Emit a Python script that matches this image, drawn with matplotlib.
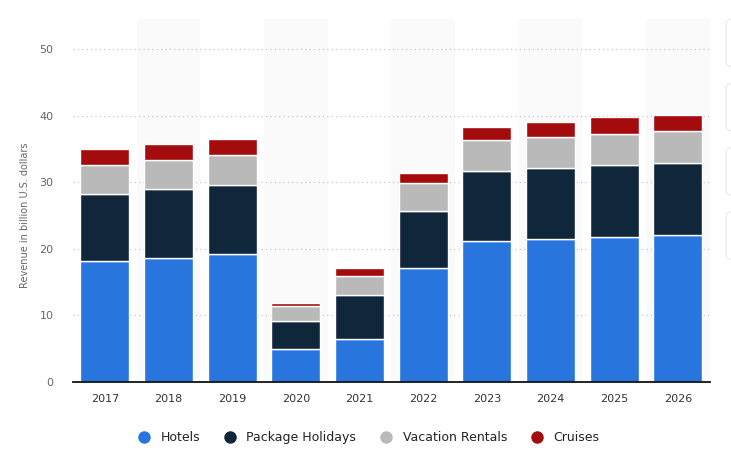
import matplotlib.pyplot as plt
import matplotlib.patches as mpatches
from matplotlib.lines import Line2D
import numpy as np

years = ["2017", "2018", "2019", "2020", "2021", "2022", "2023", "2024", "2025", "2026"]
hotels = [18.1, 18.6, 19.2, 4.9, 6.4, 17.05, 21.1, 21.5, 21.8, 22.1]
package = [10.1, 10.4, 10.4, 4.3, 6.6, 8.65, 10.6, 10.7, 10.8, 10.8]
rentals = [4.4, 4.3, 4.5, 2.2, 2.9, 4.2, 4.7, 4.6, 4.7, 4.8]
cruises = [2.4, 2.4, 2.4, 0.5, 1.2, 1.5, 1.9, 2.2, 2.5, 2.4]

series = [("Hotels", hotels, "#2876dd"),
          ("Package Holidays", package, "#10263b"),
          ("Vacation Rentals", rentals, "#b9b9b9"),
          ("Cruises", cruises, "#a30b0c")]

fig = plt.figure(figsize=(7.31, 4.76), dpi=100)
ax = fig.add_axes([0.0999, 0.1975, 0.8711, 0.7625])

x = np.arange(len(years))

# alternating column shading
for i in x:
    if i % 2 == 1:
        ax.axvspan(i - 0.5, i + 0.5, color="#fafafa", zorder=0, lw=0)

bottom = np.zeros(len(years))
for name, vals, col in series:
    vals = np.array(vals)
    ax.bar(x, vals, bottom=bottom, width=0.77, color=col,
           edgecolor="white", linewidth=1, zorder=3, label=name)
    bottom += vals

ax.set_xlim(-0.5, 9.5)
ax.set_ylim(0, 54.5)
ax.set_yticks([0, 10, 20, 30, 40, 50])
ax.set_xticks(x)
ax.set_xticklabels(years)
ax.yaxis.grid(True, linestyle=(0, (1, 2.5)), color="#c8c8c8", linewidth=0.9, zorder=1)
ax.set_axisbelow(True)

for s in ["top", "right", "left"]:
    ax.spines[s].set_visible(False)
ax.spines["bottom"].set_color("#111111")
ax.spines["bottom"].set_linewidth(1.3)
ax.spines["bottom"].set_zorder(4)

ax.tick_params(axis="y", length=0, pad=14, labelsize=8, labelcolor="#666666")
ax.tick_params(axis="x", length=0, pad=9, labelsize=8, labelcolor="#333333")
ax.set_ylabel("Revenue in billion U.S. dollars", fontsize=7, color="#666666")
ax.yaxis.set_label_coords(-0.068, 25 / 54.5)

handles = [Line2D([0], [0], marker="o", color="w", markerfacecolor=c,
                  markersize=10, label=n) for n, _, c in series]
fig.legend(handles=handles, loc="center", bbox_to_anchor=(0.5, 0.08), ncol=4,
           frameon=False, fontsize=9, handletextpad=0.3, columnspacing=1.4,
           labelcolor="#222222")

# side panel placeholders
for yy in [0.86, 0.725, 0.59, 0.455]:
    fig.patches.append(mpatches.FancyBboxPatch((0.993, yy), 0.05, 0.1,
                       boxstyle="round,pad=0,rounding_size=0.01",
                       transform=fig.transFigure, facecolor="white",
                       edgecolor="#eeeeee", linewidth=1))

fig.savefig("out.png", dpi=100)
